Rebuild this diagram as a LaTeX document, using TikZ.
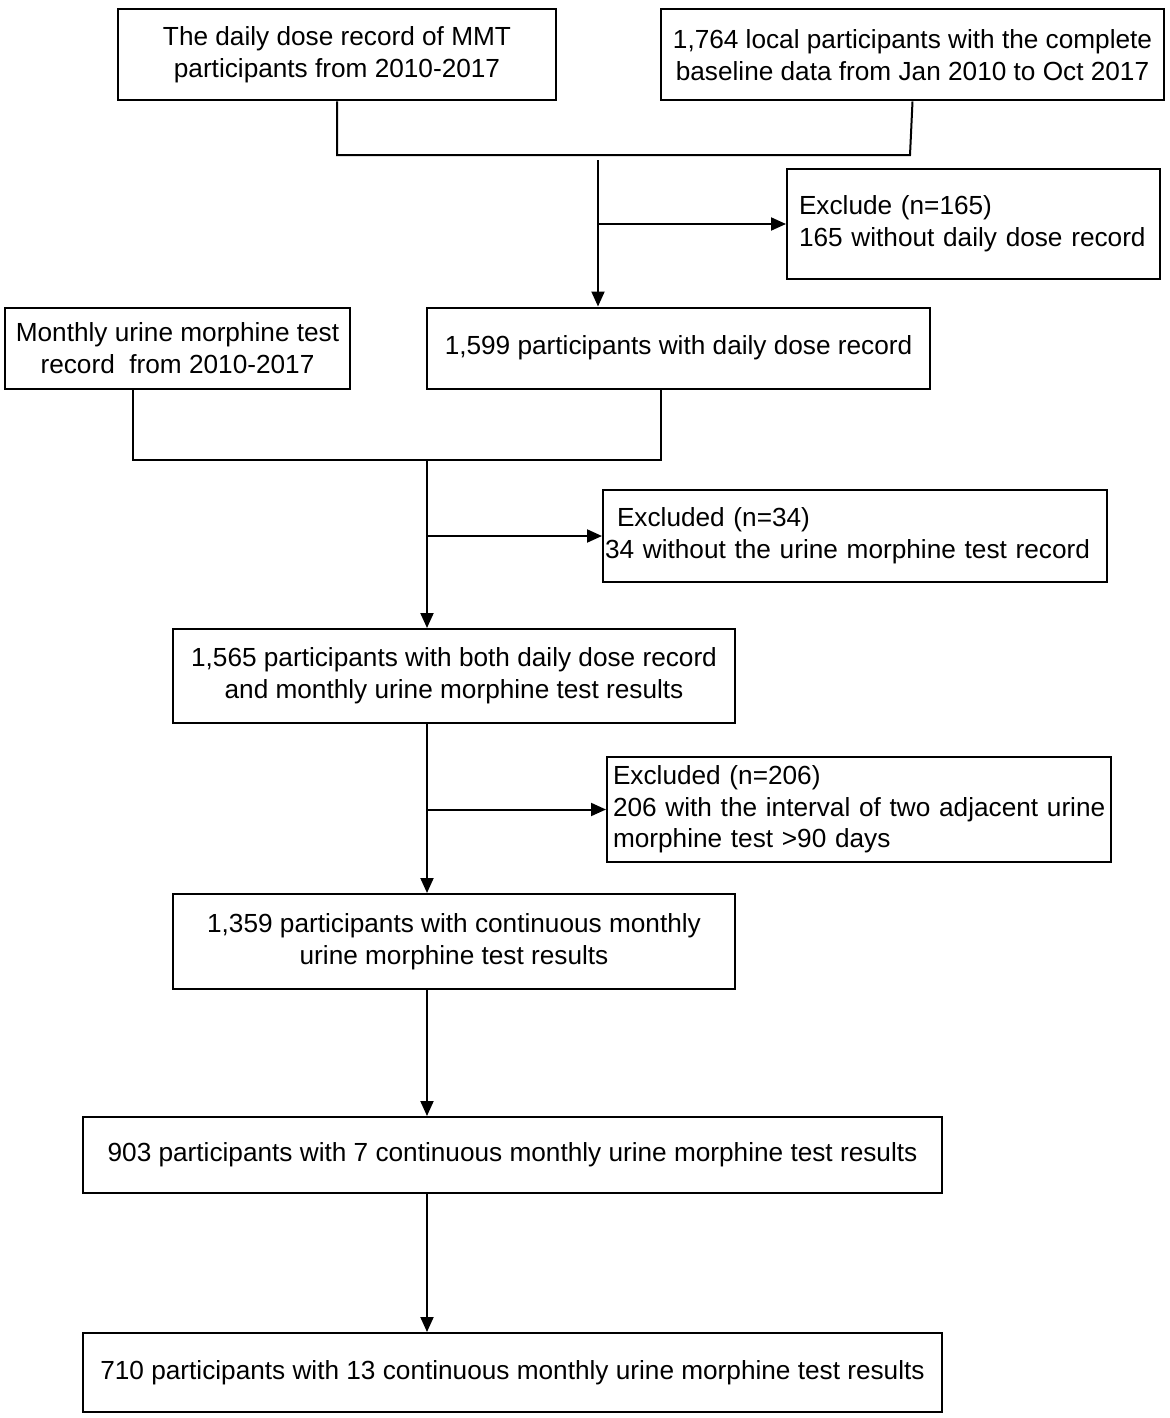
\documentclass[tikz,border=0pt]{standalone}
\usepackage{fontspec}
\setmainfont{Liberation Sans}
\usetikzlibrary{arrows.meta}
\newcommand{\exline}[1]{\mbox{#1}}
\begin{document}
\begin{tikzpicture}[x=0.5pt,y=-0.5pt,line width=1pt,
  font=\fontsize{13.1}{15.8}\selectfont,
  box/.style={draw=black,rectangle,align=center,inner sep=2pt},
  exbox/.style={draw=black,rectangle,align=left,anchor=center},
  arr/.style={-{Triangle[length=7.5pt,width=6.5pt]}}]
\useasboundingbox (0,0) rectangle (1170,1418);
% source records
\node[box,minimum width=219pt,minimum height=45.5pt] (dose) at (337,55)
  {The daily dose record of MMT\\participants from 2010-2017};
\node[box,minimum width=251.5pt,minimum height=45.5pt] (base) at (912.5,55)
  {1,764 local participants with the complete\\baseline data from Jan 2010 to Oct 2017};
\node[exbox,minimum height=55pt,text width=174.5pt,inner xsep=6pt] (ex1) at (973.5,224)
  {\exline{Exclude (n=165)}\\\exline{165 without daily dose record}};
\node[box,minimum width=251.5pt,minimum height=40.5pt] (withdose) at (678.5,348)
  {1,599 participants with daily dose record};
\node[box,minimum width=172.5pt,minimum height=40.5pt] (urine) at (177.5,348)
  {Monthly urine morphine test\\record~ from 2010-2017};
\node[exbox,minimum height=46pt,text width=250pt,inner xsep=1pt] (ex2) at (855,536)
  {\exline{\hspace*{6pt}Excluded (n=34)}\\\exline{34 without the urine morphine test record}};
\node[box,minimum width=281pt,minimum height=47pt] (both) at (454,676)
  {1,565 participants with both daily dose record\\and monthly urine morphine test results};
\node[exbox,minimum height=52.5pt,text width=246pt,inner xsep=3pt] (ex3) at (859,809.5)
  {\exline{Excluded (n=206)}\\\exline{206 with the interval of two adjacent urine}\\\exline{morphine test >90 days}};
\node[box,minimum width=281pt,minimum height=47.5pt] (cont) at (454,941.5)
  {1,359 participants with continuous monthly\\urine morphine test results};
\node[box,minimum width=429.5pt,minimum height=38pt] (seven) at (512.5,1155)
  {903 participants with 7 continuous monthly urine morphine test results};
\node[box,minimum width=429.5pt,minimum height=39.5pt] (thirteen) at (512.5,1372.5)
  {710 participants with 13 continuous monthly urine morphine test results};
% merge lines
\coordinate (m1) at (910,155);
\coordinate (s1) at (598,160);
\draw (dose.south) |- (m1) -- (base.south);
\draw[arr] (s1) -- (s1 |- withdose.north);
\draw[arr] (s1 |- ex1.west) -- (ex1.west);
\coordinate (m2) at (133,460);
\coordinate (m3) at (661,460);
\coordinate (s2) at (427,460);
\draw (urine.south -| m2) -- (m2) -- (m3) -- (withdose.south -| m3);
\draw[arr] (s2) -- (s2 |- both.north);
\draw[arr] (s2 |- ex2.west) -- (ex2.west);
\draw[arr] (s2 |- both.south) -- (s2 |- cont.north);
\draw[arr] (s2 |- ex3.west) -- (ex3.west);
\draw[arr] (s2 |- cont.south) -- (s2 |- seven.north);
\draw[arr] (s2 |- seven.south) -- (s2 |- thirteen.north);
\end{tikzpicture}
\end{document}
